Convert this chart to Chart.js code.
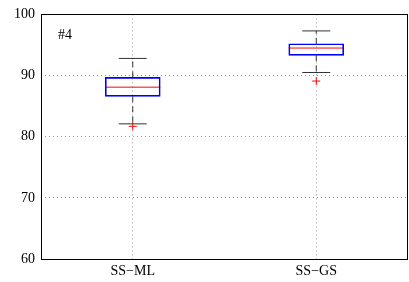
<!DOCTYPE html>
<html>
<head>
<meta charset="utf-8">
<script src="https://cdn.jsdelivr.net/npm/chart.js@4"></script>
<style>
  html, body { margin: 0; padding: 0; background: #fff; }
  #wrap { width: 409px; height: 282px; }
</style>
</head>
<body>
<div id="wrap"><canvas id="box" width="409" height="282"></canvas></div>
<script>
// box plot values
const categories = ['SS\u2212ML', 'SS\u2212GS'];
const q1 = [86.6, 93.3];
const q3 = [89.7, 95.2];
const medians = [88.1, 94.5];
const whiskerLow = [82.1, 90.5];
const whiskerHigh = [92.8, 97.3];
const outliers = [[81.7], [89.1]];
const yTicks = [60, 70, 80, 90, 100];

const FONT = { family: "'Liberation Serif', 'DejaVu Serif', serif", size: 14 };
const pos = categories.map((c, i) => i + 1);

// dashed whiskers, one line per side of each box
const whiskers = [];
pos.forEach((x, i) => {
    [[q3[i], whiskerHigh[i]], [q1[i], whiskerLow[i]]].forEach(seg => {
        whiskers.push({
            type: 'line',
            data: [{ x: x, y: seg[0] }, { x: x, y: seg[1] }],
            borderColor: '#333',
            borderWidth: 1,
            borderDash: [6, 4],
            pointRadius: 0
        });
    });
});

// frame round the plot area + the panel tag
const framePlugin = {
    id: 'frame',
    afterDraw(chart) {
        const a = chart.chartArea;
        const ctx = chart.ctx;
        ctx.save();
        ctx.strokeStyle = '#000';
        ctx.lineWidth = 1;
        ctx.setLineDash([]);
        ctx.strokeRect(Math.round(a.left) + 0.5, Math.round(a.top) + 0.5,
            Math.round(a.right - a.left) - 1, Math.round(a.bottom - a.top));
        ctx.fillStyle = '#000';
        ctx.font = '14px ' + FONT.family;
        ctx.textBaseline = 'middle';
        ctx.fillText('#4', a.left + 17, a.top + 21);
        ctx.restore();
    }
};

const ctx = document.getElementById('box').getContext('2d');
new Chart(ctx, {
    type: 'bar',
    data: {
        datasets: [
            {
                type: 'bar',
                data: pos.map((x, i) => ({ x: x, y: [q1[i], q3[i]] })),
                backgroundColor: 'rgba(0,0,0,0)',
                borderColor: '#0000ff',
                borderWidth: 1,
                borderSkipped: false,
                barThickness: 55
            },
            ...whiskers,
            {
                type: 'scatter',
                data: pos.map((x, i) => ({ x: x, y: medians[i] })),
                pointStyle: 'line',
                pointRadius: 27.5,
                pointBorderColor: '#ff0000',
                pointBorderWidth: 1
            },
            {
                type: 'scatter',
                data: pos.flatMap((x, i) => [{ x: x, y: whiskerHigh[i] }, { x: x, y: whiskerLow[i] }]),
                pointStyle: 'line',
                pointRadius: 14,
                pointBorderColor: '#333',
                pointBorderWidth: 1
            },
            {
                type: 'scatter',
                data: pos.flatMap((x, i) => outliers[i].map(v => ({ x: x, y: v }))),
                pointStyle: 'cross',
                pointRadius: 4,
                pointBorderColor: '#ff0000',
                pointBorderWidth: 1
            }
        ]
    },
    options: {
        responsive: false,
        animation: false,
        layout: { autoPadding: false, padding: { top: 12, right: 1, left: 0, bottom: 0 } },
        plugins: { legend: { display: false }, tooltip: { enabled: false } },
        scales: {
            x: {
                type: 'linear',
                offset: false,
                min: 0.5,
                max: categories.length + 0.5,
                afterBuildTicks: axis => { axis.ticks = pos.map(v => ({ value: v })); },
                afterFit: axis => { axis.height = 23; },
                ticks: {
                    callback: v => categories[v - 1],
                    color: '#000',
                    font: FONT,
                    padding: 4,
                    maxRotation: 0
                },
                grid: { offset: false, color: 'rgba(0,0,0,0.4)', drawTicks: false, lineWidth: 1 },
                border: { display: false, dash: [1, 3] }
            },
            y: {
                min: 60,
                max: 100,
                afterBuildTicks: axis => { axis.ticks = yTicks.map(v => ({ value: v })); },
                afterFit: axis => { axis.width = 41; },
                ticks: { color: '#000', font: FONT, padding: 6 },
                grid: { color: 'rgba(0,0,0,0.4)', drawTicks: false, lineWidth: 1 },
                border: { display: false, dash: [1, 3] }
            }
        }
    },
    plugins: [framePlugin]
});
</script>
</body>
</html>
